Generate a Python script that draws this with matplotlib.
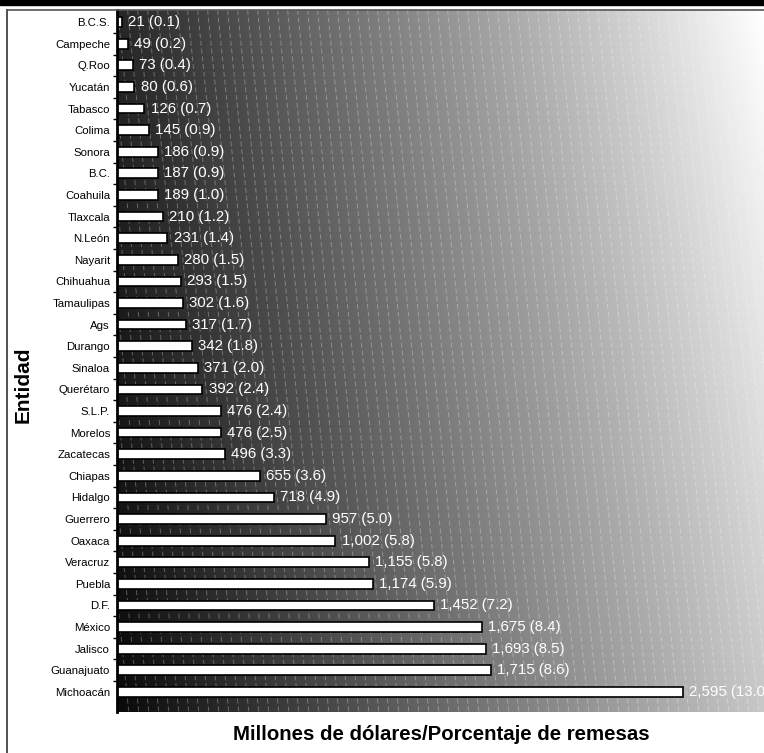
# 导入所需库
import numpy as np
import matplotlib.pyplot as plt
from matplotlib.lines import Line2D
from matplotlib.patches import Rectangle

# -------------------------- 数据 --------------------------
entidades = ["B.C.S.", "Campeche", "Q.Roo", "Yucatán", "Tabasco", "Colima", "Sonora",
             "B.C.", "Coahuila", "Tlaxcala", "N.León", "Nayarit", "Chihuahua",
             "Tamaulipas", "Ags", "Durango", "Sinaloa", "Querétaro", "S.L.P.",
             "Morelos", "Zacatecas", "Chiapas", "Hidalgo", "Guerrero", "Oaxaca",
             "Veracruz", "Puebla", "D.F.", "México", "Jalisco", "Guanajuato",
             "Michoacán"]
remesas = [21, 49, 73, 80, 126, 145, 186, 187, 189, 210, 231, 280, 293, 302, 317,
           342, 371, 392, 476, 476, 496, 655, 718, 957, 1002, 1155, 1174, 1452,
           1675, 1693, 1715, 2595]
porcentajes = [0.1, 0.2, 0.4, 0.6, 0.7, 0.9, 0.9, 0.9, 1.0, 1.2, 1.4, 1.5, 1.5, 1.6,
               1.7, 1.8, 2.0, 2.4, 2.4, 2.5, 3.3, 3.6, 4.9, 5.0, 5.8, 5.8, 5.9, 7.2,
               8.4, 8.5, 8.6, 13.0]

X_LABEL = "Millones de dólares/Porcentaje de remesas"
Y_LABEL = "Entidad"
CHART_SAVE_PATH = "out.png"
CHART_DPI = 100


def plot_remesas():
    plt.rcParams['font.family'] = ['Liberation Sans', 'DejaVu Sans']

    fig = plt.figure(figsize=(7.64, 7.53), dpi=CHART_DPI)
    ax = fig.add_axes([117 / 764, 1 - 712 / 753, 1 - 117 / 764, (712 - 10) / 753])

    # 背景渐变（左下深，右上浅）
    gx = np.linspace(0, 1, 300)
    gy = np.linspace(0, 1, 300)
    X, Y = np.meshgrid(gx, gy)  # Y=0 在顶部
    top = 0.15 + (1.0 - 0.15) * X
    bottom = 0.04 + (0.78 - 0.04) * X
    grad = np.clip(top * (1 - Y) + bottom * Y, 0, 1)
    ax.imshow(grad, cmap="gray", vmin=0, vmax=1, extent=[0, 1, 0, 1],
              transform=ax.transAxes, aspect="auto", zorder=0, interpolation="bilinear")

    # 背景斜虚线
    for x0 in np.arange(-0.2, 1.05, 10 / 647):
        ax.add_line(Line2D([x0, x0 + 0.11], [1, 0], transform=ax.transAxes,
                           color="white", alpha=0.3, linewidth=0.7,
                           linestyle=(0, (5, 3)), zorder=1))

    # 横向柱状图
    y = np.arange(len(entidades))
    ax.barh(y, remesas, height=0.45, color="white", edgecolor="black",
            linewidth=1.2, zorder=2)

    # 数值标签：金额 (百分比)
    for yi, v, p in zip(y, remesas, porcentajes):
        ax.annotate(f"{v:,} ({p:.1f})", xy=(v, yi), xytext=(4.5, 0),
                    textcoords="offset points", va="center", ha="left",
                    color="white", fontsize=10.8, zorder=3, annotation_clip=False)

    ax.set_xlim(0, 2968)
    ax.set_ylim(31.93, -0.56)
    ax.set_yticks(y)
    ax.set_yticklabels(entidades, fontsize=8.2)
    ax.set_yticks(y[:-1] + 0.5, minor=True)
    ax.tick_params(axis="y", which="major", length=0, pad=5)
    ax.tick_params(axis="y", which="minor", length=3, width=1, direction="out")
    ax.set_xticks([])
    for side in ["top", "right", "bottom"]:
        ax.spines[side].set_visible(False)
    ax.spines["left"].set_linewidth(2)

    # 坐标轴标题
    fig.text(441 / 764, 1 - 735 / 753, X_LABEL, ha="center", va="center",
             fontsize=14.7, fontweight="bold")
    fig.text(23 / 764, 1 - 385 / 753, Y_LABEL, ha="center", va="center",
             rotation=90, fontsize=15, fontweight="bold")

    # 顶部黑条和外框
    fig.add_artist(Rectangle((0, 1 - 5 / 753), 1, 5 / 753, transform=fig.transFigure,
                             color="black"))
    fig.add_artist(Line2D([6.5 / 764, 6.5 / 764], [0, 1 - 9.5 / 753],
                          transform=fig.transFigure, color="#333333", linewidth=1.2))
    fig.add_artist(Line2D([6.5 / 764, 1], [1 - 9.5 / 753, 1 - 9.5 / 753],
                          transform=fig.transFigure, color="#555555", linewidth=1.2))

    plt.savefig(CHART_SAVE_PATH, dpi=CHART_DPI)


if __name__ == "__main__":
    plot_remesas()
